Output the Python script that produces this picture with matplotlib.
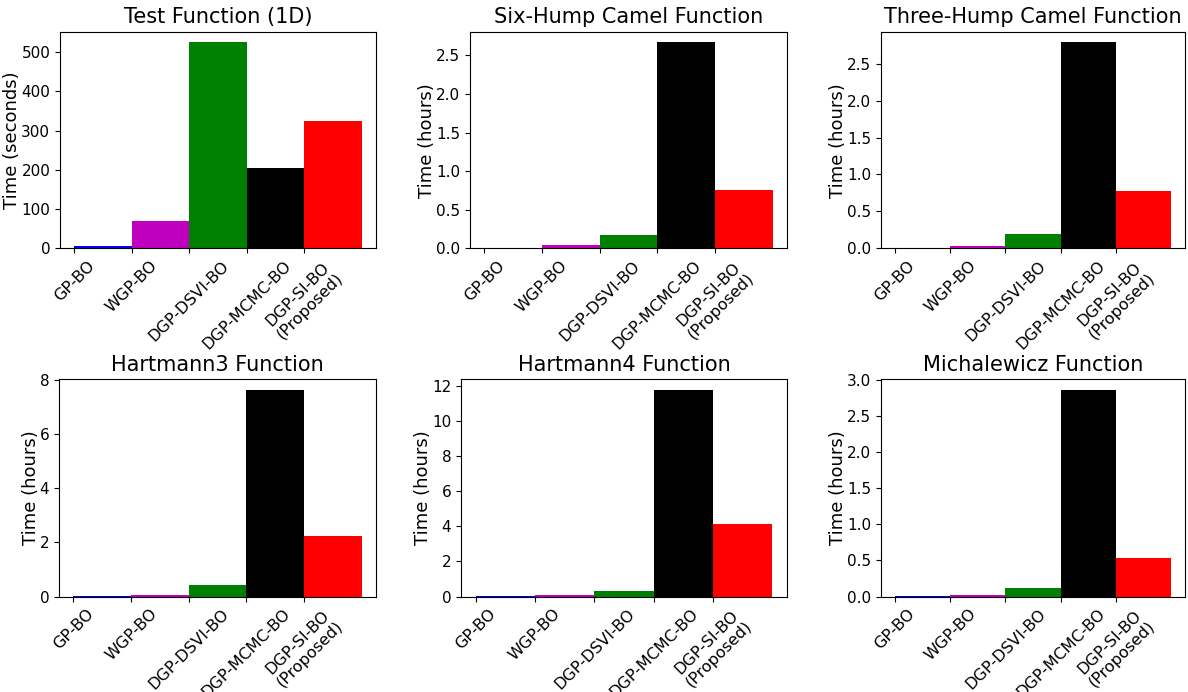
import matplotlib
import matplotlib.pyplot as plt

matplotlib.use('Agg')

methods = ['GP-BO', 'WGP-BO', 'DGP-DSVI-BO', 'DGP-MCMC-BO', 'DGP-SI-BO\n(Proposed)']
bar_colors = ['b', 'm', 'g', 'k', 'r']

titles = ['Test Function (1D)', 'Six-Hump Camel Function', 'Three-Hump Camel Function',
          'Hartmann3 Function', 'Hartmann4 Function', 'Michalewicz Function']
ylabels = ['Time (seconds)', 'Time (hours)', 'Time (hours)',
           'Time (hours)', 'Time (hours)', 'Time (hours)']

# run times per method
test_1d = [5, 69, 525, 204, 324]
six_hump = [0.012, 0.04, 0.18, 2.67, 0.76]
three_hump = [0.012, 0.03, 0.19, 2.79, 0.78]
hartmann3 = [0.001, 0.06, 0.43, 7.63, 2.24]
hartmann4 = [0.002, 0.08, 0.32, 11.81, 4.15]
michalewicz = [0.0005, 0.02, 0.12, 2.87, 0.54]

all_times = [test_1d, six_hump, three_hump, hartmann3, hartmann4, michalewicz]

fig, axes = plt.subplots(2, 3, figsize=(11.88, 6.92), dpi=100)
axes = axes.ravel()

# axes boxes as fractions of the figure: left, bottom, width, height
boxes = [
    (0.0505, 0.641, 0.266, 0.313),
    (0.3956, 0.641, 0.2668, 0.313),
    (0.7416, 0.641, 0.256, 0.313),
    (0.0497, 0.138, 0.2668, 0.314),
    (0.388, 0.138, 0.2744, 0.314),
    (0.7416, 0.138, 0.256, 0.314),
]

for ax, times, title, ylabel, box in zip(axes, all_times, titles, ylabels, boxes):
    ax.set_position(box)
    x = range(len(methods))
    ax.bar(x, times, width=1.0, align='edge', color=bar_colors)
    ax.set_xticks(list(x))
    ax.set_xticklabels(methods, rotation=45, fontsize=11.5)
    ax.tick_params(axis='y', labelsize=11)
    ax.set_title(title, fontsize=15)
    ax.set_ylabel(ylabel, fontsize=13, labelpad=0)

fig.savefig('out.png', dpi=100)
plt.close(fig)
